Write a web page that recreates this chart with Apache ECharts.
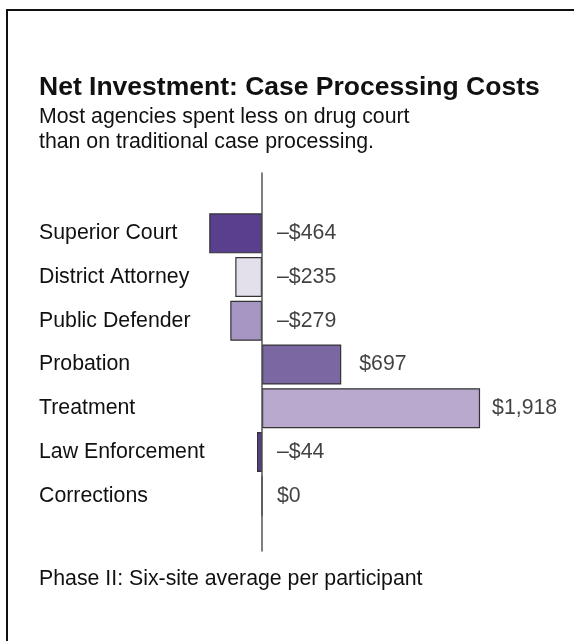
<!DOCTYPE html>
<html>
<head>
<meta charset="utf-8">
<script src="https://cdn.jsdelivr.net/npm/echarts@6/dist/echarts.min.js"></script>
<style>
  html, body { margin: 0; padding: 0; background: #fff; }
  #frame { position: absolute; left: 6px; top: 9px; width: 568px; height: 632px;
           border-left: 2px solid #111; border-top: 2px solid #111; box-sizing: border-box; }
  #chart { position: absolute; left: 0; top: 0; width: 574px; height: 641px; }
</style>
</head>
<body>
<div id="frame"></div>
<div id="chart"></div>
<script>
// ---- data ----
const categories = ['Superior Court', 'District Attorney', 'Public Defender', 'Probation', 'Treatment', 'Law Enforcement', 'Corrections'];
const netCost = [-464, -235, -279, 697, 1918, -44, 0];
const axisRange = [-2000, 2000];

// ---- style ----
const barColors = ['#5b3f8f', '#e3e0ec', '#a596c3', '#7b67a2', '#b9a9cf', '#5b3f8f', '#5b3f8f'];
const FONT = "'Liberation Sans', Arial, Helvetica, sans-serif";
const TEXT = '#111';
const FS = 21.3;

function fmt(v) {
  const s = '$' + Math.abs(v).toLocaleString('en-US');
  return v < 0 ? '\u2013' + s : s;
}
// label gap: labels after a positive bar sit a little differently than labels at the zero line
function labelGap(v) { return v > 1000 ? 12 : (v > 0 ? 18 : 15); }

const chart = echarts.init(document.getElementById('chart'), null, { renderer: 'canvas' });

const gridLeft = 34.6, gridWidth = 454.8;

chart.setOption({
  backgroundColor: 'transparent',
  animation: false,
  title: [
    { text: 'Net Investment: Case Processing Costs', left: 39, top: 73, padding: 0,
      textStyle: { fontFamily: FONT, fontSize: 26.5, fontWeight: 'bold', color: TEXT, lineHeight: 30 } },
    { text: 'Most agencies spent less on drug court\nthan on traditional case processing.', left: 39, top: 105, padding: 0,
      textStyle: { fontFamily: FONT, fontSize: FS, fontWeight: 'normal', color: TEXT, lineHeight: 25 } },
    { text: 'Phase II: Six-site average per participant', left: 39, top: 567, padding: 0,
      textStyle: { fontFamily: FONT, fontSize: FS, fontWeight: 'normal', color: TEXT, lineHeight: 25 } }
  ],
  grid: [
    { left: gridLeft, width: gridWidth, top: 211.5, height: 306 },
    { left: gridLeft, width: gridWidth, top: 173, bottom: 90 }
  ],
  xAxis: [
    { type: 'value', gridIndex: 0, min: axisRange[0], max: axisRange[1], show: false },
    { type: 'value', gridIndex: 1, min: axisRange[0], max: axisRange[1], show: false }
  ],
  yAxis: [
    { type: 'category', gridIndex: 0, data: categories, inverse: true,
      axisLine: { show: false, onZero: false }, axisTick: { show: false }, splitLine: { show: false },
      axisLabel: { inside: true, align: 'left', margin: 4.4, padding: [5, 0, 0, 0],
        fontFamily: FONT, fontSize: FS, color: TEXT } },
    { type: 'value', gridIndex: 1, min: 0, max: 1, z: 10,
      axisLine: { show: true, onZero: true, lineStyle: { color: '#555', width: 1.5 } },
      axisTick: { show: false }, axisLabel: { show: false }, splitLine: { show: false } }
  ],
  series: [
    { type: 'bar', xAxisIndex: 0, yAxisIndex: 0, barWidth: 40,
      data: netCost.map((v, i) => ({ value: v,
        itemStyle: { color: barColors[i], borderColor: '#333', borderWidth: 1.2 } })),
      label: { show: false }, z: 2 },
    { type: 'scatter', xAxisIndex: 0, yAxisIndex: 0, symbolSize: 0, silent: true,
      data: netCost.map((v, i) => ({ value: [Math.max(v, 0), i],
        label: { distance: labelGap(v) } })),
      label: { show: true, position: 'right', padding: [5, 0, 0, 0],
        formatter: p => fmt(netCost[p.dataIndex]),
        fontFamily: FONT, fontSize: FS, color: TEXT } }
  ]
});
</script>
</body>
</html>
